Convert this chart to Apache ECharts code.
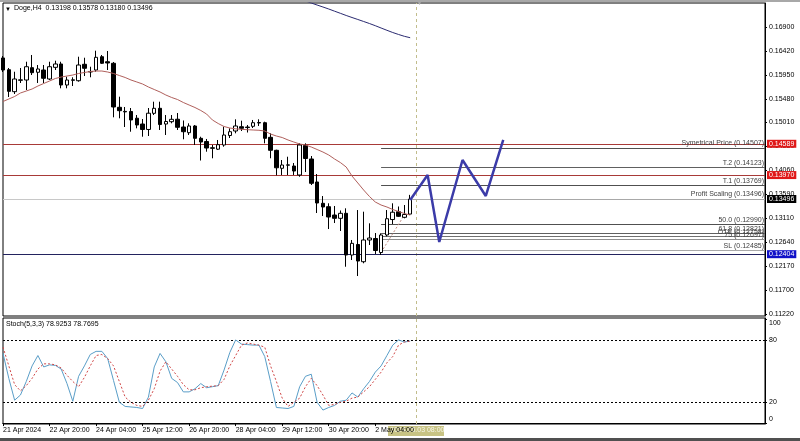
<!DOCTYPE html>
<html><head><meta charset="utf-8">
<script src="https://cdn.jsdelivr.net/npm/echarts@6/dist/echarts.min.js"></script>
<style>html,body{margin:0;padding:0;background:#fff}#c{width:800px;height:441px}</style>
</head><body><div id="c"></div>
<script>
const FONT = '"Liberation Sans",Arial,sans-serif';
const FS = 7;

// H4 bars, Doge, from 21 Apr 12:00 to 3 May 04:00
const barOpen  = [0.16287,0.16055,0.15620,0.15845,0.15851,0.16095,0.16004,0.16049,0.15871,0.16102,0.16168,0.15752,0.15845,0.15837,0.16162,0.16020,0.16049,0.16312,0.16213,0.16182,0.15311,0.15230,0.15228,0.15095,0.14980,0.14872,0.15192,0.15291,0.14980,0.15026,0.15075,0.14921,0.14808,0.14941,0.14697,0.14634,0.14510,0.14482,0.14565,0.14753,0.14842,0.14927,0.14920,0.14935,0.15000,0.15006,0.14717,0.14460,0.14104,0.14165,0.14149,0.13971,0.14555,0.14288,0.13833,0.13411,0.13344,0.13179,0.13114,0.13213,0.12388,0.12596,0.12255,0.12685,0.12714,0.12437,0.12784,0.13090,0.13245,0.13134,0.13198];
const barHigh  = [0.16326,0.16089,0.16015,0.16089,0.16213,0.16346,0.16148,0.16148,0.16213,0.16233,0.16213,0.15916,0.15905,0.16312,0.16292,0.16114,0.16431,0.16346,0.16425,0.16207,0.15521,0.15317,0.15297,0.15158,0.15079,0.15297,0.15422,0.15422,0.15158,0.15158,0.15198,0.15050,0.14994,0.14961,0.14729,0.14684,0.14565,0.14664,0.14927,0.14895,0.15073,0.15046,0.14961,0.15060,0.15073,0.15026,0.14796,0.14472,0.14268,0.14333,0.14209,0.14598,0.14598,0.14347,0.13991,0.13555,0.13411,0.13358,0.13269,0.13312,0.12685,0.13278,0.13245,0.13015,0.12823,0.12817,0.13278,0.13411,0.13348,0.13377,0.13578];
const barLow   = [0.16009,0.15515,0.15574,0.15792,0.15653,0.15950,0.15792,0.15792,0.15851,0.16049,0.15687,0.15687,0.15732,0.15818,0.15930,0.15905,0.16015,0.16168,0.16049,0.15113,0.15093,0.14921,0.14828,0.14895,0.14729,0.14743,0.15158,0.14862,0.14763,0.14994,0.14862,0.14678,0.14763,0.14565,0.14258,0.14432,0.14302,0.14466,0.14531,0.14703,0.14796,0.14842,0.14812,0.14901,0.14941,0.14598,0.14302,0.13965,0.13971,0.13971,0.13971,0.13937,0.14030,0.13773,0.13219,0.13160,0.12902,0.13021,0.12863,0.12156,0.12289,0.11972,0.12224,0.12586,0.12408,0.12388,0.12758,0.13001,0.13140,0.13114,0.13180];
const barClose = [0.16049,0.15627,0.15871,0.15855,0.16114,0.15996,0.16069,0.15885,0.16114,0.16168,0.15752,0.15851,0.15855,0.16148,0.16083,0.16010,0.16300,0.16182,0.16188,0.15317,0.15244,0.15220,0.15060,0.14961,0.14872,0.15194,0.15291,0.14970,0.15030,0.15073,0.14915,0.14828,0.14941,0.14697,0.14624,0.14505,0.14500,0.14571,0.14763,0.14828,0.14941,0.14895,0.14910,0.15006,0.15010,0.14697,0.14460,0.14114,0.14169,0.14172,0.14050,0.14565,0.14298,0.13807,0.13417,0.13338,0.13140,0.13114,0.13213,0.12388,0.12619,0.12269,0.12685,0.12724,0.12477,0.12784,0.13106,0.13235,0.13154,0.13190,0.13496];

// moving averages
const maRed = [0.15426,0.15475,0.15525,0.15594,0.15633,0.15673,0.15732,0.15782,0.15831,0.15881,0.15910,0.15930,0.15950,0.15980,0.16000,0.16019,0.16029,0.16029,0.16009,0.15980,0.15940,0.15901,0.15851,0.15812,0.15772,0.15713,0.15663,0.15614,0.15554,0.15505,0.15465,0.15406,0.15356,0.15307,0.15248,0.15178,0.15060,0.14990,0.14931,0.14901,0.14885,0.14875,0.14868,0.14862,0.14856,0.14842,0.14782,0.14743,0.14713,0.14664,0.14624,0.14585,0.14565,0.14525,0.14476,0.14426,0.14367,0.14288,0.14218,0.14129,0.13951,0.13813,0.13674,0.13546,0.13437,0.13377,0.13338,0.13289,0.13249,0.13209,0.13179];
const maNavy = [null,null,null,null,null,null,null,null,null,null,null,null,null,null,null,null,null,null,null,null,null,null,null,null,null,null,null,null,null,null,null,null,null,null,null,null,null,null,null,null,null,null,null,null,null,null,null,null,null,null,null,null,0.17415,0.17375,0.17335,0.17296,0.17256,0.17213,0.17171,0.17128,0.17088,0.17049,0.17009,0.16969,0.16926,0.16880,0.16835,0.16791,0.16752,0.16716,0.16688];

// Stochastic (5,3,3)
const stochK = [67,43,22,27,40,55,65,54,56,55.5,52,38,21,45,55,66,69,69,62,41,20,16,15.5,15,14,25,54,67,59,43,39,30,30,33,38,34,35,36,51,68,80,76,75.5,75,75,64,40,15,14.5,14,16,35,45,47,20,12.5,15,17,21,22,29,25,33,40,49,55,65,75,80,78,78.93];
const stochD = [73,55,37,31,36,43,52,57,57,56,53,46,40,35,44,55,65,66,62,55,40,25,20,17,16,22,33,50,59,52,45,37,32,32,34,35,35.5,36,42,55,65,75,77,76,75,73,55,40,24,16,20,24,35,43,36,27,17,18,20,21,24,25,30,35,42,49,58,64,75,78,78.77];

const slotCount = 132;
const timeTickIndex = [0,8,16,24,32,40,48,56,64];
const timeTickText = ['21 Apr 2024','22 Apr 20:00','24 Apr 04:00','25 Apr 12:00','26 Apr 20:00','28 Apr 04:00','29 Apr 12:00','30 Apr 20:00','2 May 04:00'];
const priceTicks = [0.16900,0.16420,0.15950,0.15480,0.15010,0.14550,0.14060,0.13590,0.13110,0.12640,0.12170,0.11700,0.11220];
const stochTicks = [0,20,80,100];

const levelPrices = [0.14589,0.13970,0.12404,0.13496];
const levelColors = ['#a83a38','#a83a38','#23235e','#c8c8c8'];
const levelBoxColors = ['#e01818','#e01818','#1010c8','#000000'];

const fibNames  = ['Symetrical Price','T.2','T.1','Profit Scaling','50.0','61.8','OTE','75','SL'];
const fibPrices = [0.14507,0.14123,0.13769,0.13496,0.12990,0.12821,0.12758,0.12697,0.12485];
const fibColors = ['#505050','#606060','#505050','#a8a8a8','#505050','#606060','#707070','#909090','#a8a8a8'];
const fibStart = 65;
const fibBaseIndex = [65,69];
const fibBasePrice = [0.12440,0.13180];

const zigIndex = [70,73,75,79,83,86];
const zigPrice = [0.13476,0.13971,0.12645,0.14268,0.13556,0.14664];

const cursorIndex = 71;
const cursorLabel = '2024.05.03 08:00';
const titleText = 'Doge,H4  0.13198 0.13578 0.13180 0.13496';
const stochTitle = 'Stoch(5,3,3) 78.9253 78.7695';

const slots = Array.from({length: slotCount}, (_, i) => String(i));
const candles = barOpen.map((o, i) => [o, barClose[i], barLow[i], barHigh[i]]);

const chart = echarts.init(document.getElementById('c'), null, {renderer: 'canvas'});
const txt = {fontFamily: FONT, fontSize: FS, color: '#000'};

const option = {
  animation: false,
  backgroundColor: '#fff',
  grid: [
    {left: 3, right: 35, top: 3, height: 313, show: true, borderColor: '#000', borderWidth: 1, backgroundColor: 'transparent'},
    {left: 3, right: 35, top: 318, height: 106, show: true, borderColor: '#000', borderWidth: 1, backgroundColor: 'transparent'}
  ],
  xAxis: [
    {type: 'category', gridIndex: 0, data: slots, boundaryGap: false,
     axisLine: {show: false}, axisTick: {show: false}, axisLabel: {show: false}, splitLine: {show: false}},
    {type: 'category', gridIndex: 1, data: slots, boundaryGap: false,
     axisLine: {show: true, lineStyle: {color: '#000'}},
     axisTick: {show: true, length: 3, lineStyle: {color: '#000'}, interval: (idx) => timeTickIndex.includes(idx)},
     axisLabel: Object.assign({interval: 0, align: 'left', margin: 3,
       formatter: (v, idx) => { const k = timeTickIndex.indexOf(idx); return k >= 0 ? timeTickText[k] : ''; }}, txt),
     splitLine: {show: false}}
  ],
  yAxis: [
    {type: 'value', gridIndex: 0, position: 'right', min: 0.11181, max: 0.17375, scale: true,
     axisLine: {show: true, lineStyle: {color: '#000'}},
     axisTick: {show: true, length: 2, lineStyle: {color: '#000'}, customValues: priceTicks},
     axisLabel: Object.assign({margin: 4, customValues: priceTicks, formatter: (v) => v.toFixed(5)}, txt),
     splitLine: {show: false}},
    {type: 'value', gridIndex: 1, position: 'right', min: -0.9, max: 101.1,
     axisLine: {show: true, lineStyle: {color: '#000'}},
     axisTick: {show: true, length: 2, lineStyle: {color: '#000'}, customValues: stochTicks},
     axisLabel: Object.assign({margin: 4, customValues: stochTicks,
       formatter: (v) => v === 100 ? '{t|100}' : (v === 0 ? '{b|0}' : String(v)),
       rich: {t: {fontFamily: FONT, fontSize: FS, color: '#000', padding: [8, 0, 0, 0]},
              b: {fontFamily: FONT, fontSize: FS, color: '#000', padding: [0, 0, 8, 0]}}}, txt),
     splitLine: {show: false}}
  ],
  series: [
    {type: 'candlestick', xAxisIndex: 0, yAxisIndex: 0, data: candles, barWidth: 4, z: 3,
     itemStyle: {color: '#ffffff', color0: '#000000', borderColor: '#000000', borderColor0: '#000000', borderWidth: 1},
     markLine: {silent: true, symbol: 'none', z: 1, precision: 6,
       lineStyle: {color: '#c2bd8c', type: [3, 3], width: 1},
       label: {show: false},
       data: [{xAxis: cursorIndex}]}},
    {type: 'line', xAxisIndex: 0, yAxisIndex: 0, data: maRed, symbol: 'none', z: 4,
     lineStyle: {color: '#b0605c', width: 1}},
    {type: 'line', xAxisIndex: 0, yAxisIndex: 0, data: maNavy, symbol: 'none', z: 4,
     lineStyle: {color: '#2a2a70', width: 1}},
    // horizontal levels with axis price boxes
    {type: 'line', xAxisIndex: 0, yAxisIndex: 0, data: [], z: 2,
     markLine: {silent: true, symbol: 'none', z: 2, precision: 6,
       data: levelPrices.map((p, i) => ({yAxis: p,
         lineStyle: {color: levelColors[i], width: 1, type: 'solid'},
         label: {show: true, position: 'end', distance: 2, formatter: p.toFixed(5),
           backgroundColor: levelBoxColors[i], color: '#fff', padding: [1, 2, 0, 2],
           fontFamily: FONT, fontSize: FS}}))}},
    // fibonacci-type levels
    {type: 'line', xAxisIndex: 0, yAxisIndex: 0, data: [], z: 2,
     markLine: {silent: true, symbol: 'none', z: 2, precision: 6,
       data: fibPrices.map((p, i) => [
         {coord: [fibStart, p], lineStyle: {color: fibColors[i], width: 1, type: 'solid'},
          label: {show: true, position: 'insideEndTop', distance: [1, 1],
            formatter: fibNames[i] + ' (' + p.toFixed(5) + ')',
            fontFamily: FONT, fontSize: FS, color: '#404040'}},
         {coord: [slotCount - 1, p]}])}},
    {type: 'line', xAxisIndex: 0, yAxisIndex: 0, z: 2, symbol: 'none',
     data: fibBaseIndex.map((x, i) => [x, fibBasePrice[i]]),
     lineStyle: {color: '#c08a80', width: 1, type: [2, 2]}},
    // projection zigzag
    {type: 'line', xAxisIndex: 0, yAxisIndex: 0, z: 5, symbol: 'none',
     data: zigIndex.map((x, i) => [x, zigPrice[i]]),
     lineStyle: {color: '#3b3ba8', width: 2.5}},
    // stochastic
    {type: 'line', xAxisIndex: 1, yAxisIndex: 1, data: stochK, symbol: 'none', z: 4,
     lineStyle: {color: '#5a9ec8', width: 1},
     markLine: {silent: true, symbol: 'none', z: 1, label: {show: false},
       data: [{yAxis: 80, lineStyle: {color: '#000', type: [2, 2], width: 1}},
              {yAxis: 20, lineStyle: {color: '#000', type: [2, 2], width: 1}},
              {xAxis: cursorIndex, lineStyle: {color: '#c2bd8c', type: [3, 3], width: 1}}]}},
    {type: 'line', xAxisIndex: 1, yAxisIndex: 1, data: stochD, symbol: 'none', z: 4,
     lineStyle: {color: '#d04848', width: 1, type: [2, 2]}}
  ]
};
chart.setOption(option);

const cx = chart.convertToPixel({xAxisIndex: 1}, cursorIndex);
chart.setOption({
  graphic: [
    {type: 'rect', left: 0, top: 0, shape: {width: 800, height: 2}, style: {fill: '#a8a8a8'}, z: 10},
    {type: 'rect', left: 0, top: 438, shape: {width: 800, height: 3}, style: {fill: '#505050'}, z: 10},
    {type: 'text', left: 5, top: 6, style: {text: '\u25BC', fontFamily: FONT, fontSize: 6, fill: '#000'}, z: 10},
    {type: 'text', left: 14, top: 5, style: {text: titleText, fontFamily: FONT, fontSize: FS, fill: '#000'}, z: 10},
    {type: 'text', left: 6, top: 321, style: {text: stochTitle, fontFamily: FONT, fontSize: FS, fill: '#000'}, z: 10},
    {type: 'text', left: Math.round(chart.convertToPixel({xAxisIndex: 0}, cursorIndex)) + 1, top: 1, style: {text: '\u25BC', fontFamily: FONT, fontSize: 5, fill: '#b0b0b0'}, z: 10},
    {type: 'group', left: Math.round(cx - 28), top: 426, z: 100, zlevel: 1, children: [
      {type: 'rect', shape: {x: 0, y: 0, width: 56, height: 10}, style: {fill: '#c8c384'}},
      {type: 'text', left: 2, top: 1, style: {text: cursorLabel, fontFamily: FONT, fontSize: FS, fill: '#f6f6e8'}}
    ]}
  ]
});
</script></body></html>
